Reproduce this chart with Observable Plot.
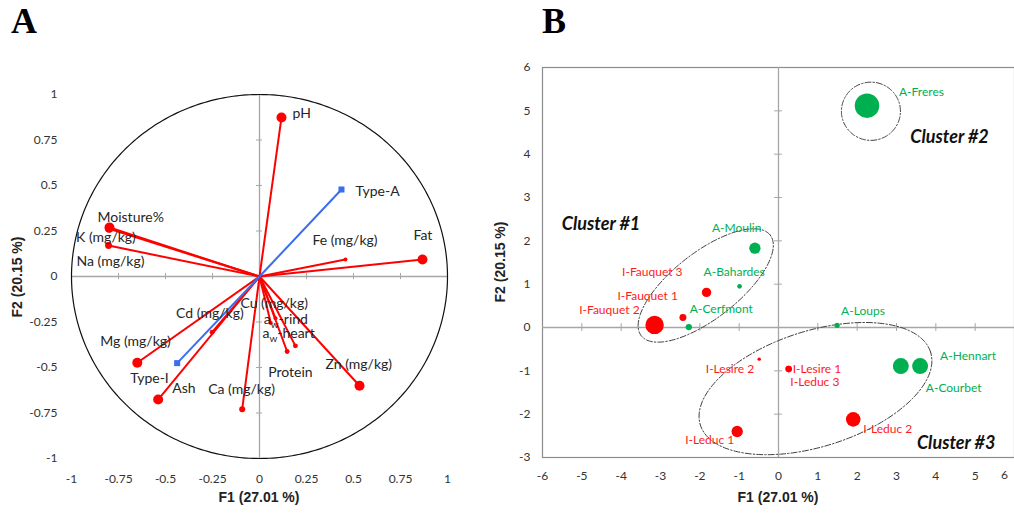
<!DOCTYPE html>
<html><head><meta charset="utf-8">
<script src="https://cdn.jsdelivr.net/npm/d3@7"></script>
<script src="https://cdn.jsdelivr.net/npm/@observablehq/plot@0.6"></script>
<style>
body{margin:0;background:#fff;}
#root{position:relative;width:1014px;height:513px;overflow:hidden;background:#fff;}
#root > svg{position:absolute;top:0;}
</style></head><body><div id="root"></div>
<script>
// ---------- DATA ----------
// Panel A: correlation circle (active variables)
const varNames  = ["pH","Fat","Fe (mg/kg)","Moisture%","K (mg/kg)","Na (mg/kg)","Mg (mg/kg)","Ash","Cd (mg/kg)","Ca (mg/kg)","Cu (mg/kg)","aw-rind","aw-heart","Protein","Zn (mg/kg)"];
const varF1     = [0.117, 0.867, 0.457, -0.798, -0.800, -0.803, -0.650, -0.539, -0.252, -0.092, 0.085, 0.060, 0.191, 0.147, 0.532];
const varF2     = [0.874, 0.093, 0.093, 0.269, 0.262, 0.170, -0.474, -0.676, -0.306, -0.729, -0.230, -0.255, -0.381, -0.412, -0.600];
const varWeight = [25, 25, 4, 25, 16, 12, 25, 25, 6, 9, 4, 4, 6, 6, 25];
// Panel A: supplementary variables
const suppNames = ["Type-A","Type-I"];
const suppF1    = [0.436, -0.438];
const suppF2    = [0.478, -0.476];
// Panel B: observations
const obsNames  = ["A-Freres","A-Moulin","A-Bahardes","A-Cerfmont","A-Loups","A-Hennart","A-Courbet","I-Fauquet 3","I-Fauquet 1","I-Fauquet 2","I-Lesire 1","I-Leduc 3","I-Lesire 2","I-Leduc 1","I-Leduc 2"];
const obsF1     = [2.25, -0.60, -0.99, -2.28, 1.49, 3.60, 3.11, -1.83, -2.43, -3.15, 0.26, 0.25, -0.49, -1.05, 1.90];
const obsF2     = [5.12, 1.83, 0.95, 0.01, 0.05, -0.89, -0.89, 0.81, 0.23, 0.06, -0.96, -0.95, -0.73, -2.40, -2.12];
const obsWeight = [150, 32, 5.5, 10, 7, 64, 64, 22, 12, 85, 11, 8, 3, 32, 53];
const clusterNames = ["Cluster #1","Cluster #2","Cluster #3"];
// Tick labels
const ticksA  = [-1,-0.75,-0.5,-0.25,0,0.25,0.5,0.75,1];
const ticksBx = [-6,-5,-4,-3,-2,-1,0,1,2,3,4,5,6];
const ticksBy = [-3,-2,-1,0,1,2,3,4,5,6];

// ---------- LAYOUT (offsets / annotation geometry) ----------
const labelA = {"pH":[11,-4],"Fat":[-9,-24],"Fe (mg/kg)":[-33,-19],"Moisture%":[-12,-10],"K (mg/kg)":[-33,9],
  "Na (mg/kg)":[-32,16],"Mg (mg/kg)":[-37,-21],"Ash":[14,-11],"Cd (mg/kg)":[-36,-19],"Ca (mg/kg)":[-34,-20],
  "Cu (mg/kg)":[-35,-15],"aw-rind":[-7,-3],"aw-heart":[-33,-12],"Protein":[-19,21],"Zn (mg/kg)":[-34,-21],
  "Type-A":[14,2],"Type-I":[-47,15]};
const labelB = {"A-Freres":["start",32,-13],"A-Moulin":["start",-43,-20],"A-Bahardes":["start",-36,-14],
  "A-Cerfmont":["start",1,-18],"A-Loups":["start",4,-14],"A-Hennart":["start",20,-10],"A-Courbet":["start",25,22],
  "I-Fauquet 3":["end",-24,-20],"I-Fauquet 1":["end",-5,-21],"I-Fauquet 2":["end",-15,-15],
  "I-Lesire 1":["start",4,0],"I-Leduc 3":["start",2,13],"I-Lesire 2":["end",-5,10],"I-Leduc 1":["end",-3,9],"I-Leduc 2":["start",10,10]};
const clusterShapes = [
  {cx:-1.85, cy:0.97, a:2.08, b:0.84, angle:38, lx:-5.51, ly:2.38},
  {cx:2.35, cy:4.99, a:0.75, b:0.74, angle:0, lx:3.35, ly:4.38},
  {cx:0.94, cy:-1.41, a:3.07, b:1.47, angle:17.6, lx:3.52, ly:-2.66}
];

const RED = "#ff0000", GREEN = "#00b050", BLUE = "#3a6df0";
const FONT = "Lato";

// ---------- PANEL A ----------
const vars = varNames.map((n,i)=>({name:n, f1:varF1[i], f2:varF2[i], w:varWeight[i]}));
const supp = suppNames.map((n,i)=>({name:n, f1:suppF1[i], f2:suppF2[i]}));
const circle = d3.range(0, 361, 1).map(d => ({x: Math.cos(d*Math.PI/180), y: Math.sin(d*Math.PI/180)}));
const allA = vars.concat(supp);

const plotA = Plot.plot({
  width: 507, height: 513,
  marginLeft: 71, marginRight: 60, marginTop: 94, marginBottom: 55,
  x: {domain: [-1, 1], label: null},
  y: {domain: [-1, 1], label: null},
  r: {type: "sqrt", domain: [0, 25], range: [0, 5]},
  style: {fontFamily: FONT, fontSize: "12px", color: "#333", background: "transparent"},
  marks: [
    Plot.ruleY([0], {x1: () => -1, x2: () => 1, stroke: "#a6a6a6", strokeWidth: 1.3}),
    Plot.ruleX([0], {y1: () => -1, y2: () => 1, stroke: "#a6a6a6", strokeWidth: 1.3}),
    Plot.ruleX(ticksA.filter(d => d !== 0 && Math.abs(d) !== 1), {x: d => d, y1: () => -0.017, y2: () => 0.017, stroke: "#a6a6a6"}),
    Plot.ruleY(ticksA.filter(d => d !== 0 && Math.abs(d) !== 1), {y: d => d, x1: () => -0.016, x2: () => 0.016, stroke: "#a6a6a6"}),
    Plot.line(circle, {x: "x", y: "y", stroke: "#111", strokeWidth: 1.2}),
    Plot.link(vars, {x1: () => 0, y1: () => 0, x2: "f1", y2: "f2", stroke: RED, strokeWidth: 2}),
    Plot.link(supp, {x1: () => 0, y1: () => 0, x2: "f1", y2: "f2", stroke: BLUE, strokeWidth: 2}),
    Plot.dot(vars, {x: "f1", y: "f2", r: "w", fill: RED}),
    Plot.dot(supp, {x: "f1", y: "f2", r: 3.4, symbol: "square", fill: BLUE}),
    ...allA.map(d => Plot.text([d], {x: "f1", y: "f2", text: "name", textAnchor: "start",
      dx: labelA[d.name][0], dy: labelA[d.name][1], fontSize: 14, fill: "#262626", fontFamily: FONT})),
    Plot.axisX({ticks: ticksA, tickSize: 0, tickPadding: 16, tickFormat: d => String(d), label: null}),
    Plot.axisY({ticks: ticksA, tickSize: 0, tickPadding: 14, tickFormat: d => String(d), label: null})
  ]
});

// ---------- PANEL B ----------
const WB = 507, HB = 513, mL = 35, mR = 0, mT = 67, mB = 56;
const kx = (WB - mL - mR) / 12, ky = (HB - mT - mB) / 9;
const obs = obsNames.map((n,i)=>({name:n, f1:obsF1[i], f2:obsF2[i], w:obsWeight[i], type:n[0]}));
const ellPts = clusterShapes.flatMap((c, k) => d3.range(0, 361, 2).map(deg => {
  const t = deg * Math.PI / 180, th = c.angle * Math.PI / 180;
  const u = c.a * kx * Math.cos(t), v = c.b * kx * Math.sin(t);
  const px = u * Math.cos(th) - v * Math.sin(th), py = u * Math.sin(th) + v * Math.cos(th);
  return {x: c.cx + px / kx, y: c.cy + py / ky, g: k};
}));
const clusterLabels = clusterNames.map((n, i) => ({name: n, x: clusterShapes[i].lx, y: clusterShapes[i].ly}));

const plotB = Plot.plot({
  width: WB, height: HB,
  marginLeft: mL, marginRight: mR, marginTop: mT, marginBottom: mB,
  x: {domain: [-6, 6], label: null},
  y: {domain: [-3, 6], label: null},
  r: {type: "sqrt", domain: [0, 150], range: [0, 12.25]},
  style: {fontFamily: FONT, fontSize: "12px", color: "#333", background: "transparent"},
  marks: [
    Plot.frame({stroke: "#8c8c8c", strokeWidth: 1.2}),
    Plot.ruleY([0], {stroke: "#a6a6a6", strokeWidth: 1.3}),
    Plot.ruleX([0], {stroke: "#a6a6a6", strokeWidth: 1.3}),
    Plot.ruleX(ticksBx.filter(d => d !== 0 && Math.abs(d) !== 6), {x: d => d, y1: () => -0.09, y2: () => 0.09, stroke: "#a6a6a6"}),
    Plot.ruleY(ticksBy.filter(d => d !== 0 && d !== 6 && d !== -3), {y: d => d, x1: () => -0.1, x2: () => 0.1, stroke: "#a6a6a6"}),
    Plot.line(ellPts, {x: "x", y: "y", z: "g", stroke: "#404040", strokeWidth: 1, strokeDasharray: "6,2,1.5,2"}),
    Plot.dot(obs, {x: "f1", y: "f2", r: "w", fill: d => d.type === "A" ? GREEN : RED}),
    ...obs.map(d => Plot.text([d], {x: "f1", y: "f2", text: "name", textAnchor: labelB[d.name][0],
      dx: labelB[d.name][1], dy: labelB[d.name][2], fontSize: 12, fontFamily: FONT,
      fill: d.type === "A" ? GREEN : "#ff1a1a"})),
    Plot.text(clusterLabels, {x: "x", y: "y", text: "name", textAnchor: "start", fontSize: 18,
      fontWeight: "bold", fontStyle: "italic", fontFamily: FONT, fill: "#111"}),
    Plot.axisX({ticks: ticksBx.filter(d => d !== 6), tickSize: 0, tickPadding: 14, tickFormat: d => String(d), label: null}),
    Plot.text([6], {x: d => d, y: () => -3, dy: 18, dx: -10, text: d => String(d), fontSize: 12, fill: "#333"}),
    Plot.axisY({ticks: ticksBy, tickSize: 0, tickPadding: 12, tickFormat: d => String(d), label: null})
  ]
});

// subscript w in a_w labels
plotA.querySelectorAll("text").forEach(t => {
  const s = t.textContent;
  if (s === "aw-rind" || s === "aw-heart") {
    t.textContent = "";
    const ns = "http://www.w3.org/2000/svg";
    const a = document.createElementNS(ns, "tspan"); a.textContent = "a";
    const w = document.createElementNS(ns, "tspan"); w.textContent = "w"; w.setAttribute("dy", "4"); w.setAttribute("font-size", "10");
    const r = document.createElementNS(ns, "tspan"); r.textContent = s.slice(2); r.setAttribute("dy", "-4");
    t.append(a, w, r);
  }
});

const root = document.getElementById("root");
plotA.style.left = "0px";
plotB.style.left = "507px";
root.append(plotA, plotB);

// panel letters and axis titles
const ns = "http://www.w3.org/2000/svg";
const ov = d3.create("svg").attr("width", 1014).attr("height", 513)
  .style("position", "absolute").style("left", "0px").style("top", "0px");
ov.append("text").attr("x", 11).attr("y", 33).attr("font-family", "Liberation Serif").attr("font-weight", "bold").attr("font-size", 36).text("A");
ov.append("text").attr("x", 542).attr("y", 33).attr("font-family", "Liberation Serif").attr("font-weight", "bold").attr("font-size", 36).text("B");
const tt = {"font-family": "Liberation Sans", "font-weight": "bold", "font-size": 14, "fill": "#222", "text-anchor": "middle"};
function title(x, y, rot, s) {
  const t = ov.append("text").attr("transform", `translate(${x},${y}) rotate(${rot})`).text(s);
  for (const k in tt) t.attr(k, tt[k]);
}
title(259, 502, 0, "F1 (27.01 %)");
title(778, 502, 0, "F1 (27.01 %)");
title(22, 277, -90, "F2 (20.15 %)");
title(505, 262, -90, "F2 (20.15 %)");
root.append(ov.node());
</script></body></html>
